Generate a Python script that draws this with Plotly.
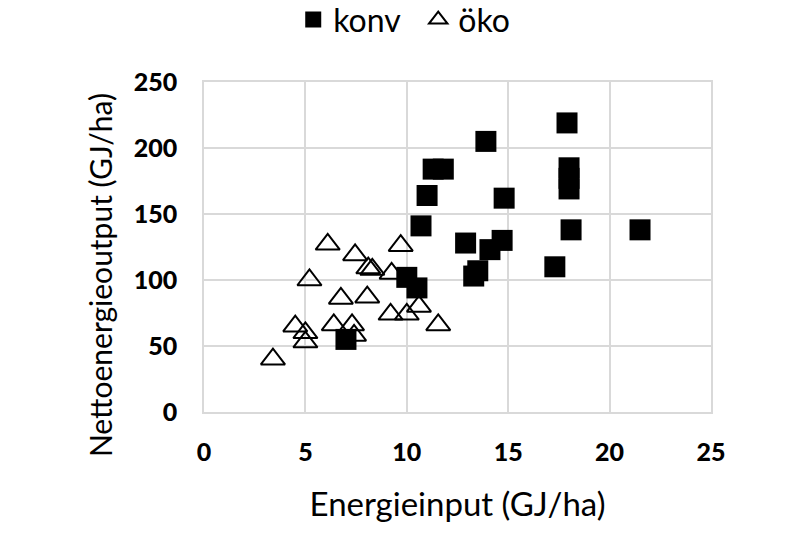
import plotly.graph_objects as go

# konventionell
konv_x = [7.0, 10.0, 10.5, 10.7, 11.0, 11.3, 11.8, 12.9, 13.3, 13.5, 13.9, 14.1,
          14.7, 14.8, 17.3, 17.9, 18.0, 18.0, 18.0, 18.1, 21.5]
konv_y = [55, 102, 94, 141, 164, 184, 184, 128, 103, 107, 205, 123,
          130, 162, 110, 219, 185, 177, 169, 138, 138]

# ökologisch
oeko_x = [6.1, 7.45, 9.7, 8.1, 8.3, 9.25, 5.2, 6.75, 8.05, 9.2, 10.0, 10.6,
          11.55, 4.5, 5.0, 5.0, 6.4, 7.3, 7.4, 3.4]
oeko_y = [127, 119, 126, 109, 108, 105, 100, 86, 87, 74, 74, 80,
          66, 65, 60, 53, 66, 66, 58, 40]

x_ticks = [0, 5, 10, 15, 20, 25]
y_ticks = [0, 50, 100, 150, 200, 250]

FONT = "Lato"
GRID = "#d9d9d9"

fig = go.Figure()
fig.add_trace(go.Scatter(
    x=konv_x, y=konv_y, mode="markers", name="konv",
    marker=dict(symbol="square", size=21, color="black",
                line=dict(color="black", width=0)),
))
fig.add_trace(go.Scatter(
    x=oeko_x, y=oeko_y, mode="markers", name="öko",
    marker=dict(symbol="triangle-up-open", size=21, color="black",
                line=dict(color="black", width=2)),
))

fig.update_layout(
    width=800, height=533,
    paper_bgcolor="white", plot_bgcolor="white",
    margin=dict(l=204, r=89, t=82, b=121, autoexpand=False),
    font=dict(family=FONT, color="black"),
    showlegend=True,
    legend=dict(
        orientation="h", xref="paper", yref="paper",
        x=0.176, xanchor="left", y=1.272, yanchor="top",
        font=dict(family=FONT, size=32, color="black"),
        itemwidth=30, entrywidth=80, entrywidthmode="pixels",
        itemsizing="trace",
    ),
    xaxis=dict(
        range=[0, 25], tickvals=x_ticks,
        showgrid=True, gridcolor=GRID, gridwidth=1.5,
        showline=True, linecolor=GRID, linewidth=1.5, mirror=True,
        zeroline=False, ticks="",
        tickfont=dict(family=FONT, size=25, weight=900, color="black"),
        ticklabelstandoff=17,
        title=dict(text="Energieinput (GJ/ha)",
                   font=dict(family=FONT, size=33, color="black"),
                   standoff=28),
    ),
    yaxis=dict(
        range=[0, 250], tickvals=y_ticks,
        showgrid=True, gridcolor=GRID, gridwidth=1.5,
        showline=True, linecolor=GRID, linewidth=1.5, mirror=True,
        zeroline=False, ticks="outside", ticklen=20,
        tickcolor="rgba(0,0,0,0)",
        tickfont=dict(family=FONT, size=25, weight=900, color="black"),
    ),
    annotations=[dict(
        text="Nettoenergieoutput (GJ/ha)", textangle=-90,
        xref="paper", yref="paper", x=-0.205, y=0.415,
        xanchor="center", yanchor="middle", showarrow=False,
        font=dict(family=FONT, size=30, color="black"),
    )],
)

fig.write_html("out.html")
